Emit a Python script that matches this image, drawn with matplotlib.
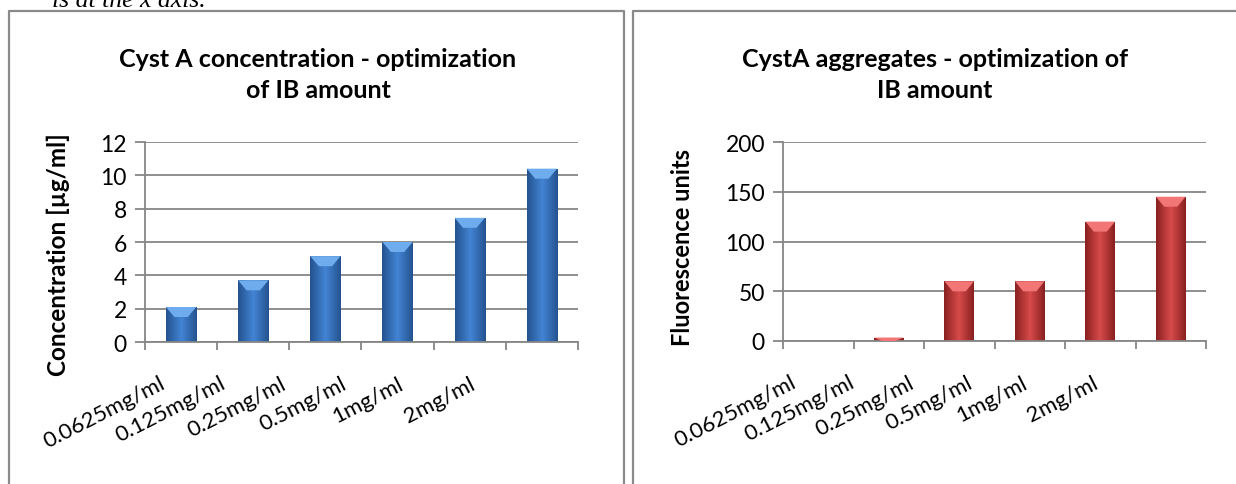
import numpy as np
import matplotlib
matplotlib.use('Agg')
import matplotlib.pyplot as plt
from matplotlib.colors import LinearSegmentedColormap
from matplotlib.lines import Line2D
from matplotlib.patches import Polygon
from matplotlib.transforms import ScaledTranslation

doses = ['0.0625mg/ml', '0.125mg/ml', '0.25mg/ml', '0.5mg/ml', '1mg/ml', '2mg/ml']
concentration = [2.1, 3.7, 5.15, 6.0, 7.45, 10.4]
fluorescence = [0, 3.5, 60, 60, 120, 145]

DPI = 100
W, H = 1236, 485
GRID = '#868686'

plt.rcParams['font.family'] = ['Lato', 'DejaVu Sans']
fig = plt.figure(figsize=(W / DPI, H / DPI), dpi=DPI)


def px(x, y):
    """pixel position (from top-left) -> figure fraction"""
    return x / W, 1 - y / H


def bar_panel(rect, values, ymax, ystep, shades, cap_color, label_dx):
    ax = fig.add_axes(rect)
    n = len(values)
    x = np.arange(n)

    # bars with a side-to-side shading and a bevelled top
    cmap = LinearSegmentedColormap.from_list('shade', shades)
    grad = 1 - np.abs(np.linspace(-1, 1, 64))
    bars = ax.bar(x, values, width=0.42, color=shades[-1], edgecolor='none', zorder=2)
    cap = 10 * ymax / (rect[3] * H)
    for b in bars:
        h = b.get_height()
        if h <= 0:
            continue
        x0, w = b.get_x(), b.get_width()
        im = ax.imshow(grad[None, :], cmap=cmap, aspect='auto', zorder=2.1,
                       extent=(x0, x0 + w, 0, h))
        im.set_clip_path(b)
        d = min(cap, h)
        ax.add_patch(Polygon([(x0, h), (x0 + w, h), (x0 + w * 0.72, h - d),
                              (x0 + w * 0.28, h - d)],
                             facecolor=cap_color, edgecolor='none', zorder=3))

    ax.set_xlim(-0.5, n - 0.5)
    ax.set_ylim(0, ymax)
    ax.set_yticks(np.arange(0, ymax + ystep / 2, ystep))
    ax.yaxis.grid(True, color=GRID, lw=1.3)
    ax.set_axisbelow(True)
    for s in ('top', 'right'):
        ax.spines[s].set_visible(False)
    for s in ('left', 'bottom'):
        ax.spines[s].set_color(GRID)
        ax.spines[s].set_linewidth(1.3)
    ax.tick_params(axis='y', length=7, width=1.3, color=GRID, pad=6, labelsize=16.5)

    # category borders carry the tick marks, labels sit on minor ticks
    ax.set_xticks(np.arange(n + 1) - 0.5)
    ax.tick_params(axis='x', which='major', length=6, width=1.3, color=GRID,
                   labelbottom=False)
    ax.set_xticks(x, minor=True)
    ax.set_xticklabels(doses, minor=True, rotation=27, ha='left', va='top', fontsize=16)
    ax.tick_params(axis='x', which='minor', length=0, pad=0)
    shift = ScaledTranslation(label_dx / DPI, -31 / DPI, fig.dpi_scale_trans)
    for lab in ax.get_xticklabels(minor=True):
        lab.set_transform(lab.get_transform() + shift)
    return ax


bar_panel([145 / W, 1 - 343 / H, 433 / W, 200 / H], concentration, 12, 2,
          ['#24538f', '#4283d2'], '#6eacee', -141)
bar_panel([783 / W, 1 - 342 / H, 423 / W, 199 / H], fluorescence, 200, 50,
          ['#8a2020', '#d64a4a'], '#f27676', -147)

fig.text(*px(318, 75), 'Cyst A concentration - optimization\nof IB amount',
         ha='center', va='center', fontsize=18, fontweight='bold', linespacing=1.45)
fig.text(*px(935, 75), 'CystA aggregates - optimization of\nIB amount',
         ha='center', va='center', fontsize=18, fontweight='bold', linespacing=1.45)
fig.text(*px(58, 255), 'Concentration [µg/ml]', rotation=90,
         ha='center', va='center', fontsize=17.5, fontweight='bold')
fig.text(*px(683, 248), 'Fluorescence units', rotation=90,
         ha='center', va='center', fontsize=17, fontweight='bold')

# line of running text cut by the top of the page
fig.text(*px(52, 7), 'is at the x axis.', family=['Liberation Serif', 'DejaVu Serif'],
         style='italic', fontsize=18.5, va='baseline')

# frames around the two charts
frame = dict(color='#8a8a8a', lw=1.6, transform=fig.transFigure)
for xs, ys in [([9, 9, 624, 624], [490, 12, 12, 490]),
               ([633, 633, 1240], [490, 12, 12])]:
    fx = [v / W for v in xs]
    fy = [1 - v / H for v in ys]
    fig.add_artist(Line2D(fx, fy, **frame))

fig.savefig('out.png', dpi=DPI)
